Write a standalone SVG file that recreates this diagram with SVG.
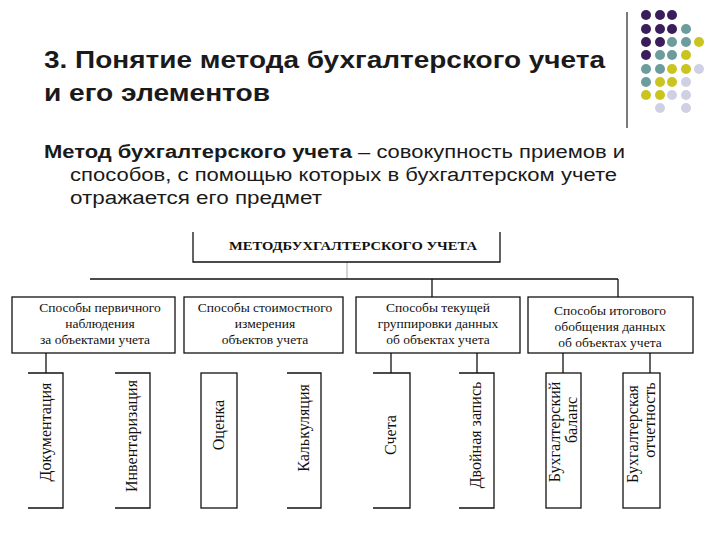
<svg xmlns="http://www.w3.org/2000/svg" width="720" height="540" viewBox="0 0 720 540">
<style>
.t{font-family:"Liberation Sans",Arial,sans-serif;fill:#1a1a1a}
.s{font-family:"Liberation Serif","Times New Roman",serif;font-size:13.5px;fill:#111;text-anchor:middle}
.r{font-size:16px}
.b{fill:#fff;stroke:#111;stroke-width:1.3}
.l{stroke:#111;stroke-width:1.3;fill:none}
</style>
<rect width="720" height="540" fill="#fff"/>
<g id="deco">
<line x1="627" y1="12" x2="627" y2="128" stroke="#222" stroke-width="1.2"/>
<g fill="#3b1d5c"><circle cx="646" cy="15" r="5"/><circle cx="660" cy="15" r="5"/><circle cx="672" cy="15" r="5"/><circle cx="646" cy="29" r="5"/><circle cx="660" cy="29" r="5"/><circle cx="672" cy="29" r="5"/><circle cx="646" cy="42" r="5"/><circle cx="660" cy="42" r="5"/><circle cx="646" cy="55" r="5"/></g>
<g fill="#6c9c9c"><circle cx="686" cy="29" r="5"/><circle cx="672" cy="42" r="5"/><circle cx="686" cy="42" r="5"/><circle cx="660" cy="55" r="5"/><circle cx="672" cy="55" r="5"/><circle cx="646" cy="69" r="5"/><circle cx="660" cy="69" r="5"/><circle cx="646" cy="82" r="5"/></g>
<g fill="#c9c41e"><circle cx="699" cy="42" r="5"/><circle cx="686" cy="55" r="5"/><circle cx="672" cy="69" r="5"/><circle cx="686" cy="69" r="5"/><circle cx="660" cy="82" r="5"/><circle cx="672" cy="82" r="5"/><circle cx="646" cy="95" r="5"/><circle cx="660" cy="95" r="5"/></g>
<g fill="#cfd0e3"><circle cx="699" cy="69" r="5"/><circle cx="686" cy="82" r="5"/><circle cx="672" cy="95" r="5"/><circle cx="686" cy="95" r="5"/><circle cx="660" cy="108" r="5"/><circle cx="686" cy="108" r="5"/></g>
</g>
<g id="title">
<text class="t" x="44" y="68" font-size="24" font-weight="bold" textLength="561" lengthAdjust="spacingAndGlyphs">3. Понятие метода бухгалтерского учета</text>
<text class="t" x="44" y="101" font-size="24" font-weight="bold" textLength="226" lengthAdjust="spacingAndGlyphs">и его элементов</text>
<text class="t" x="44" y="158" font-size="18" textLength="581" lengthAdjust="spacingAndGlyphs"><tspan font-weight="bold">Метод бухгалтерского учета</tspan> – совокупность приемов и</text>
<text class="t" x="70" y="181" font-size="18" textLength="547" lengthAdjust="spacingAndGlyphs">способов, с помощью которых в бухгалтерском учете</text>
<text class="t" x="70" y="204" font-size="18" textLength="252" lengthAdjust="spacingAndGlyphs">отражается его предмет</text>
</g>
<g id="connectors">
<line x1="347" y1="262" x2="347" y2="279" stroke="#aaa" stroke-width="1"/>
<path class="l" d="M90 279H618M432 279V297M618 279V297M46 353V373M391 353V373M477 353V373M563 353V373M650 353V373"/>
</g>
<g id="top"><path class="l" d="M193 232V262H500V232"/><text class="s" x="353" y="250" font-weight="bold" font-size="12" textLength="248" lengthAdjust="spacingAndGlyphs">МЕТОДБУХГАЛТЕРСКОГО УЧЕТА</text></g>
<g id="c1"><rect class="b" x="12" y="297" width="163" height="56"/><text class="s" x="100" y="312">Способы первичного</text><text class="s" x="100" y="328">наблюдения</text><text class="s" x="95" y="344">за объектами учета</text></g>
<g id="c2"><rect class="b" x="184" y="297" width="159" height="56"/><text class="s" x="265" y="312">Способы стоимостного</text><text class="s" x="265" y="328">измерения</text><text class="s" x="265" y="344">объектов учета</text></g>
<g id="c3"><rect class="b" x="356" y="297" width="164" height="56"/><text class="s" x="438" y="312">Способы текущей</text><text class="s" x="438" y="328">группировки данных</text><text class="s" x="438" y="344">об объектах учета</text></g>
<g id="c4"><rect class="b" x="528" y="297" width="165" height="56"/><text class="s" x="610" y="315">Способы итогового</text><text class="s" x="610" y="331">обобщения данных</text><text class="s" x="610" y="347">об объектах учета</text></g>
<g id="v1"><path class="l" d="M28 373H63V508H28"/><text class="s r" transform="translate(51 432) rotate(-90)">Документация</text></g>
<g id="v2"><path class="l" d="M115 373H150V508H115"/><text class="s r" transform="translate(137 436) rotate(-90)">Инвентаризация</text></g>
<g id="v3"><rect class="b" x="201" y="373" width="36" height="135"/><text class="s r" transform="translate(224 425) rotate(-90)">Оценка</text></g>
<g id="v4"><path class="l" d="M287 373H321V508H287"/><text class="s r" transform="translate(309 428) rotate(-90)">Калькуляция</text></g>
<g id="v5"><path class="l" d="M373 373H410V508H373"/><text class="s r" transform="translate(396 435) rotate(-90)">Счета</text></g>
<g id="v6"><path class="l" d="M459 373H494V508H459"/><text class="s r" transform="translate(481 435) rotate(-90)">Двойная запись</text></g>
<g id="v7"><rect class="b" x="546" y="373" width="35" height="135"/><text class="s r" transform="translate(560 432) rotate(-90)">Бухгалтерский</text><text class="s r" transform="translate(577 420) rotate(-90)">баланс</text></g>
<g id="v8"><rect class="b" x="623" y="373" width="37" height="135"/><text class="s r" transform="translate(638 434) rotate(-90)">Бухгалтерская</text><text class="s r" transform="translate(655 420) rotate(-90)">отчетность</text></g>
</svg>
